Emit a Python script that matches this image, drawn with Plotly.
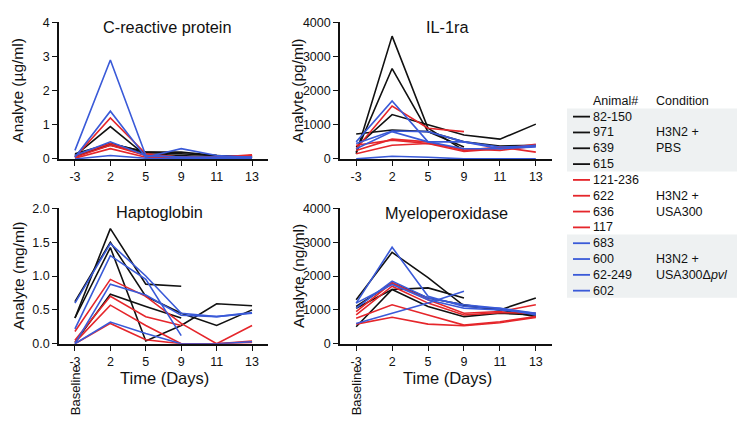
import plotly.graph_objects as go

days = ["-3", "2", "5", "9", "11", "13"]
animals = ["82-150", "971", "639", "615",
           "121-236", "622", "636", "117",
           "683", "600", "62-249", "602"]
conditions = [["H3N2 +", "PBS"], ["H3N2 +", "USA300"], ["H3N2 +", "USA300Δ<i>pvl</i>"]]
group_colors = ["#111111", "#e5262b", "#3a5ad8"]
animal_group = [0, 0, 0, 0, 1, 1, 1, 1, 2, 2, 2, 2]

N = None
crp = [
    [0.10, 0.95, 0.10, 0.05, 0.10, 0.05],
    [0.15, 0.45, 0.20, 0.20, 0.10, 0.05],
    [0.05, 0.45, 0.20, 0.15, 0.10, 0.08],
    [0.10, 0.40, 0.15, 0.10, 0.05, 0.05],
    [0.05, 1.20, 0.15, 0.05, 0.05, 0.10],
    [0.10, 0.45, 0.10, 0.05, 0.05, 0.12],
    [0.02, 0.30, 0.05, 0.02, 0.05, 0.08],
    [0.05, 0.40, 0.10, 0.05, 0.05, 0.10],
    [0.25, 2.90, 0.10, 0.05, 0.05, 0.05],
    [0.05, 1.40, 0.05, 0.30, 0.10, 0.05],
    [0.10, 0.50, 0.10, 0.05, 0.05, 0.05],
    [0.00, 0.10, 0.02, 0.00, 0.00, 0.00],
]
il1ra = [
    [150, 3600, 900, 250, N, N],
    [200, 2650, 800, 350, N, N],
    [350, 1300, 1000, 700, 580, 1020],
    [730, 850, 800, 500, 380, 400],
    [300, 1550, 900, 800, N, N],
    [250, 580, 500, 250, 350, 200],
    [150, 400, 450, 220, 300, 430],
    [400, 550, 450, 300, 250, 380],
    [500, 1700, 500, 500, 300, 400],
    [450, 820, 800, 500, 350, 380],
    [300, 800, 500, 300, 300, 350],
    [0, 80, 50, 0, 0, 0],
]
hapto = [
    [0.38, 1.70, 0.88, 0.85, N, N],
    [0.62, 1.50, 0.70, 0.45, 0.27, 0.50],
    [0.38, 1.42, 0.04, 0.27, 0.59, 0.56],
    [0.02, 0.73, 0.55, 0.38, N, N],
    [0.18, 0.95, 0.70, 0.30, 0.00, 0.27],
    [0.05, 0.70, 0.40, 0.27, N, N],
    [0.02, 0.57, 0.27, 0.00, 0.00, 0.04],
    [0.00, 0.30, 0.06, 0.00, 0.00, 0.02],
    [0.60, 1.48, 1.00, 0.45, 0.40, 0.45],
    [0.22, 1.30, 0.95, 0.12, N, N],
    [0.00, 0.88, 0.72, 0.42, 0.40, 0.46],
    [0.00, 0.32, 0.15, 0.00, 0.00, 0.03],
]
mpo = [
    [1300, 2700, 1950, 1120, 1000, 1350],
    [1050, 1600, 1650, 1350, N, N],
    [500, 1600, 1100, 800, 900, 850],
    [1100, 1800, 1350, 1150, 1000, 800],
    [950, 1800, 1300, 900, 950, 1150],
    [850, 1700, 1200, 850, 920, 900],
    [750, 1150, 850, 550, 650, 800],
    [580, 780, 580, 530, 620, 780],
    [1200, 2850, 1400, 1100, 1050, 850],
    [1050, 1850, 1350, 1150, 1050, 900],
    [600, 900, 1200, 1550, N, N],
    [1200, 1750, 1300, 1050, 1000, 900],
]

panels = [
    dict(name="C-reactive protein", data=crp, unit="Analyte (µg/ml)", rng=[0, 4], tv=[0, 1, 2, 3, 4], tt=["0", "1", "2", "3", "4"]),
    dict(name="IL-1ra", data=il1ra, unit="Analyte (pg/ml)", rng=[0, 4000], tv=[0, 1000, 2000, 3000, 4000], tt=["0", "1000", "2000", "3000", "4000"]),
    dict(name="Haptoglobin", data=hapto, unit="Analyte (mg/ml)", rng=[0, 2], tv=[0, 0.5, 1, 1.5, 2], tt=["0.0", "0.5", "1.0", "1.5", "2.0"]),
    dict(name="Myeloperoxidase", data=mpo, unit="Analyte (ng/ml)", rng=[0, 4000], tv=[0, 1000, 2000, 3000, 4000], tt=["0", "1000", "2000", "3000", "4000"]),
]

W, H = 750, 433
def px(x): return x / W
def py(y): return 1 - y / H

xdom = [[px(59), px(268)], [px(340), px(552)], [px(59), px(268)], [px(340), px(552)]]
ydom = [[py(157), py(16)], [py(157), py(16)], [py(348), py(208)], [py(348), py(208)]]
title_pos = [(167, 21), (447, 21), (159, 212), (446, 213)]

FONT = "Arial, Liberation Sans, Helvetica, sans-serif"
fig = go.Figure()
xpos = list(range(len(days)))

layout = dict(
    width=W, height=H, margin=dict(l=0, r=0, t=0, b=0),
    paper_bgcolor="white", plot_bgcolor="white", showlegend=False,
    font=dict(family=FONT, color="#111111", size=12),
)
annotations = []
shapes = []

for i, p in enumerate(panels):
    k = "" if i == 0 else str(i + 1)
    xa, ya = "x" + k, "y" + k
    for a, vals in enumerate(p["data"]):
        fig.add_trace(go.Scatter(
            x=xpos, y=vals, xaxis=xa, yaxis=ya, mode="lines",
            line=dict(color=group_colors[animal_group[a]], width=1.6),
            name=animals[a], connectgaps=False, hoverinfo="skip"))
    layout["xaxis" + k] = dict(
        domain=xdom[i], range=[-0.45, 5.45], anchor=ya,
        tickvals=xpos, ticktext=days, showgrid=False, zeroline=False,
        showline=True, linecolor="#111111", linewidth=1.6,
        ticks="outside", ticklen=5, tickwidth=1.4, tickcolor="#111111",
        tickfont=dict(size=12.5, family=FONT, color="#111111"))
    layout["yaxis" + k] = dict(
        domain=ydom[i], range=p["rng"], anchor=xa,
        tickvals=p["tv"], ticktext=p["tt"], showgrid=False, zeroline=False,
        showline=True, linecolor="#111111", linewidth=1.6,
        ticks="outside", ticklen=5, tickwidth=1.4, tickcolor="#111111",
        tickfont=dict(size=12.5, family=FONT, color="#111111"))
    tx, ty = title_pos[i]
    annotations.append(dict(text=p["name"], x=px(tx), y=py(ty), xref="paper", yref="paper",
                            xanchor="center", yanchor="middle", showarrow=False,
                            font=dict(size=16.3, family=FONT, color="#111111")))
    cy = (ydom[i][0] + ydom[i][1]) / 2
    ytx = px(18) if i in (0, 2) else px(298)
    annotations.append(dict(text=p["unit"], x=ytx, y=cy, xref="paper", yref="paper",
                            textangle=-90, xanchor="center", yanchor="middle", showarrow=False,
                            font=dict(size=15.5, family=FONT, color="#111111")))
    if i >= 2:
        cx = 164 if i == 2 else 447
        annotations.append(dict(text="Time (Days)", x=px(cx), y=py(383), xref="paper", yref="paper",
                                xanchor="center", yanchor="middle", showarrow=False,
                                font=dict(size=16.5, family=FONT, color="#111111")))
        annotations.append(dict(text="Baseline", x=0, y=py(396), xref=xa, yref="paper",
                                textangle=-90, xanchor="center", yanchor="middle", showarrow=False,
                                font=dict(size=13, family=FONT, color="#111111")))

# legend block
row0, dy = 113.3, 16.35
shapes.append(dict(type="rect", xref="paper", yref="paper", x0=px(567), x1=px(737),
                   y0=py(105), y1=py(170), fillcolor="#eef1f2", line=dict(width=0), layer="below"))
shapes.append(dict(type="rect", xref="paper", yref="paper", x0=px(567), x1=px(737),
                   y0=py(235), y1=py(300.5), fillcolor="#eef1f2", line=dict(width=0), layer="below"))
annotations.append(dict(text="Animal#", x=px(591), y=py(97), xref="paper", yref="paper",
                        xanchor="left", yanchor="middle", showarrow=False, font=dict(size=12.5, family=FONT)))
annotations.append(dict(text="Condition", x=px(654), y=py(97), xref="paper", yref="paper",
                        xanchor="left", yanchor="middle", showarrow=False, font=dict(size=12.5, family=FONT)))
for a, name in enumerate(animals):
    yy = row0 + a * dy
    shapes.append(dict(type="line", xref="paper", yref="paper", x0=px(573), x1=px(590),
                       y0=py(yy), y1=py(yy), line=dict(color=group_colors[animal_group[a]], width=1.8)))
    annotations.append(dict(text=name, x=px(591), y=py(yy), xref="paper", yref="paper",
                            xanchor="left", yanchor="middle", showarrow=False, font=dict(size=12.5, family=FONT)))
for g, lines in enumerate(conditions):
    base = row0 + (g * 4 + 1) * dy
    for j, t in enumerate(lines):
        annotations.append(dict(text=t, x=px(654), y=py(base + j * dy), xref="paper", yref="paper",
                                xanchor="left", yanchor="middle", showarrow=False, font=dict(size=12.5, family=FONT)))

layout["annotations"] = annotations
layout["shapes"] = shapes
fig.update_layout(**layout)
fig.write_html("out.html", config={"displayModeBar": False},
               post_script="document.body.style.margin='0';document.body.style.overflow='hidden';")
